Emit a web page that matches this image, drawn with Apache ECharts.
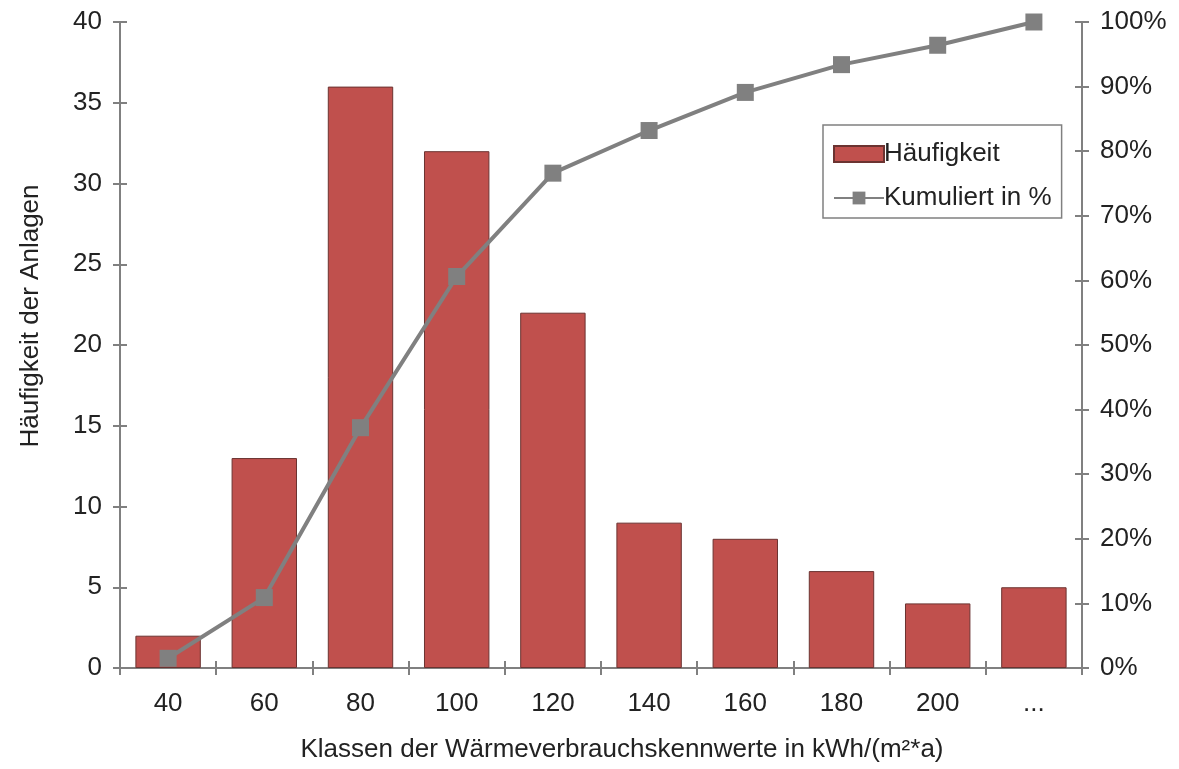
<!DOCTYPE html>
<html><head><meta charset="utf-8">
<script src="https://cdn.jsdelivr.net/npm/echarts@6/dist/echarts.min.js"></script>
<style>html,body{margin:0;padding:0;background:#fff}#c{width:1179px;height:769px}</style>
</head><body><div id="c"></div>
<script>
const categories = ['40','60','80','100','120','140','160','180','200','...'];
const haeufigkeit = [2, 13, 36, 32, 22, 9, 8, 6, 4, 5];
const kumuliert = [1.5, 10.9, 37.2, 60.6, 76.6, 83.2, 89.1, 93.4, 96.4, 100];
const leftTicks = [0, 40, 5];
const rightTicks = [0, 100, 10];

const FONT = '"Liberation Sans", Arial, sans-serif';
const FS = 26;
const AX = {color:'#808080', width:2};
const chart = echarts.init(document.getElementById('c'));
function yBase(pos, min, max, interval, show, inside, fmt){
  return {type:'value', position:pos, min, max, interval,
    axisLine:{show:true, lineStyle:AX},
    axisTick:{show:true, inside:inside, length:7, lineStyle:AX},
    splitLine:{show:false},
    axisLabel:{show:show, color:'#222', fontFamily:FONT, fontSize:FS, margin:18, formatter:fmt}};
}
chart.setOption({
  animation:false,
  grid:{left:120, right:97, top:22, bottom:101},
  legend:{orient:'vertical', left:823, top:125,
    padding:[16,10,7,10], itemGap:18, itemWidth:50, itemHeight:16,
    borderColor:'#808080', borderWidth:1.5, backgroundColor:'#fff',
    textStyle:{fontFamily:FONT, fontSize:FS, color:'#222', padding:[0,0,0,-5]},
    data:[{name:'Häufigkeit', icon:'rect'},'Kumuliert in %']},
  xAxis:[
    {type:'category', data:categories, position:'bottom',
     axisLine:{lineStyle:AX}, axisTick:{show:true, length:7, lineStyle:AX, alignWithLabel:false},
     axisLabel:{color:'#222', fontFamily:FONT, fontSize:FS, margin:23},
     name:'Klassen der Wärmeverbrauchskennwerte in kWh/(m²*a)', nameLocation:'middle', nameGap:69,
     nameTextStyle:{color:'#222', fontFamily:FONT, fontSize:FS, padding:[0,0,0,42]}},
    {type:'category', data:categories, position:'bottom', gridIndex:0,
     axisLine:{show:false}, axisTick:{show:true, inside:true, length:7, lineStyle:AX},
     axisLabel:{show:false}},
    {type:'category', data:categories, position:'top',
     axisLine:{lineStyle:AX}, axisTick:{show:false}, axisLabel:{show:false}}
  ],
  yAxis:[
    Object.assign(yBase('left', leftTicks[0], leftTicks[1], leftTicks[2], true, false),
      {name:'Häufigkeit der Anlagen', nameLocation:'middle', nameGap:76,
       nameTextStyle:{color:'#222', fontFamily:FONT, fontSize:FS, padding:[0,0,0,58]}}),
    yBase('right', rightTicks[0], rightTicks[1], rightTicks[2], true, false, '{value}%'),
    yBase('left', leftTicks[0], leftTicks[1], leftTicks[2], false, true),
    yBase('right', rightTicks[0], rightTicks[1], rightTicks[2], false, true)
  ],
  series:[
    {name:'Häufigkeit', type:'bar', data:haeufigkeit, xAxisIndex:0, yAxisIndex:0,
     barCategoryGap:'32%',
     itemStyle:{color:'#C0504D', borderColor:'#6b3331', borderWidth:1}},
    {name:'Kumuliert in %', type:'line', data:kumuliert, xAxisIndex:0, yAxisIndex:1,
     symbol:'rect', symbolSize:17,
     lineStyle:{color:'#808080', width:4},
     itemStyle:{color:'#808080'}}
  ]
});
</script></body></html>
